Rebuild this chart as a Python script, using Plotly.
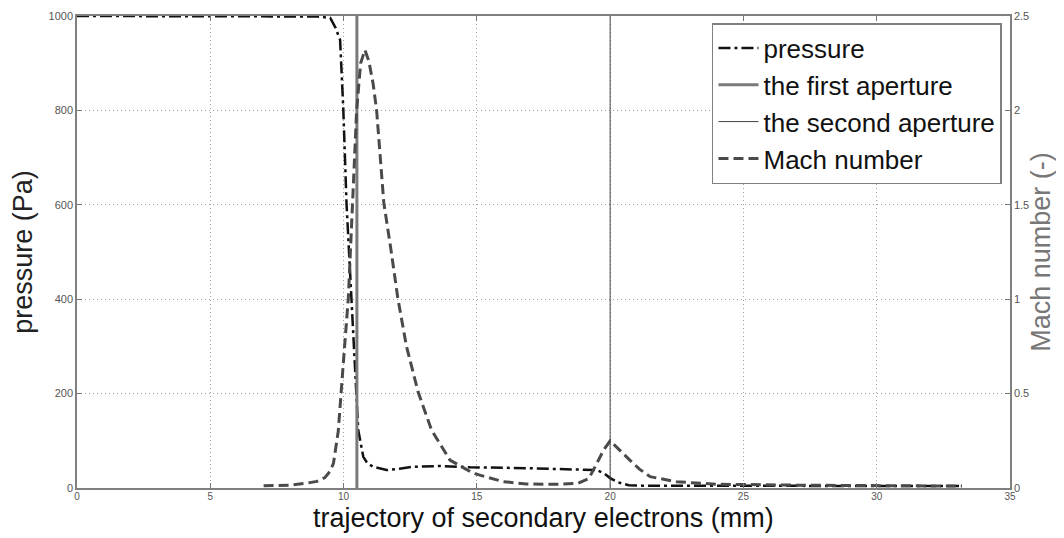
import plotly.graph_objects as go

# ---- data ----
pressure_x = [0, 5, 9.0, 9.5, 9.7, 9.87, 9.99, 10.11, 10.3, 10.47, 10.55, 10.74, 10.9, 11.11,
              11.61, 12.1, 12.61, 13.61, 14.74, 16.87, 19.0, 19.5, 19.8, 20.0, 20.3, 20.7,
              21.2, 22.0, 25.0, 30.0, 33.2]
pressure_y = [1000, 1000, 999, 996, 975, 949, 803, 604, 403, 203, 123, 66, 52, 45,
              38, 41, 45, 46.6, 44, 42, 40, 38, 30, 21, 12, 6,
              5, 5, 5, 5, 4]

mach_x = [7.0, 8.0, 8.6, 9.0, 9.3, 9.5, 9.62, 9.8, 9.99, 10.18, 10.35, 10.49, 10.64, 10.8,
          10.95, 11.11, 11.24, 11.39, 11.51, 11.78, 12.03, 12.36, 12.8, 13.3, 13.99, 14.86,
          15.98, 16.86, 18.0, 18.8, 19.2, 19.5, 19.75, 20.0, 20.35, 20.74, 21.1, 21.5,
          22.5, 24.0, 27.0, 30.0, 33.2]
mach_y = [0.012, 0.015, 0.025, 0.035, 0.055, 0.09, 0.13, 0.3, 0.66, 1.01, 1.55, 2.0, 2.25, 2.32,
          2.26, 2.14, 2.0, 1.72, 1.51, 1.26, 1.01, 0.75, 0.507, 0.307, 0.148, 0.078,
          0.034, 0.021, 0.02, 0.025, 0.05, 0.13, 0.2, 0.25, 0.2, 0.148, 0.1, 0.06,
          0.033, 0.02, 0.015, 0.012, 0.01]

first_aperture_x = 10.5
second_aperture_x = 20.0

x_ticks = [0, 5, 10, 15, 20, 25, 30, 35]
p_ticks = [0, 200, 400, 600, 800, 1000]
m_ticks = [0, 0.5, 1, 1.5, 2, 2.5]
m_tick_text = ["0", "0.5", "1", "1.5", "2", "2.5"]

x_title = "trajectory of secondary electrons (mm)"

FONT = "Liberation Sans, Arial, sans-serif"

fig = go.Figure()
fig.add_trace(go.Scatter(x=pressure_x, y=pressure_y, mode="lines", name="pressure",
                         line=dict(color="#111111", width=2.5, dash="12px,4px,3px,4px")))
fig.add_trace(go.Scatter(x=[first_aperture_x, first_aperture_x], y=[0, 1000], mode="lines",
                         name="the first aperture",
                         line=dict(color="#7a7a7a", width=3)))
fig.add_trace(go.Scatter(x=[second_aperture_x, second_aperture_x], y=[0, 1000], mode="lines",
                         name="the second aperture",
                         line=dict(color="#444444", width=1)))
fig.add_trace(go.Scatter(x=mach_x, y=mach_y, mode="lines", name="Mach number", yaxis="y2",
                         line=dict(color="#4a4a4a", width=3, dash="10px,5px")))

tickfont = dict(family=FONT, size=11, color="#555555")
gridstyle = dict(showgrid=True, gridcolor="#a0a0a0", griddash="1px,3px", gridwidth=1)

# the page body has an 8px margin, so the figure is offset by 8px inside the 1064x538 window
fig.update_layout(
    width=1048, height=530,
    margin=dict(l=69, r=46, t=8, b=50, autoexpand=False),
    paper_bgcolor="white", plot_bgcolor="white",
    font=dict(family=FONT),
    xaxis=dict(range=[0, 35], tickvals=x_ticks, ticks="inside", ticklen=5,
               tickcolor="#777777", showline=True, linecolor="#808080", linewidth=1.5,
               mirror="ticks", zeroline=False, tickfont=dict(family=FONT, size=10, color="#555555"),
               automargin=False, ticklabelstandoff=-2,
               **gridstyle),
    yaxis=dict(range=[0, 1000], tickvals=p_ticks, ticks="inside", ticklen=5,
               tickcolor="#777777", showline=True, linecolor="#808080", linewidth=1.5,
               zeroline=False, tickfont=tickfont, automargin=False,
               title=dict(text="pressure (Pa)", font=dict(family=FONT, size=27, color="#222222"),
                          standoff=10),
               **gridstyle),
    yaxis2=dict(range=[0, 2.5], tickvals=m_ticks, ticktext=m_tick_text, overlaying="y",
                side="right", ticks="inside", ticklen=5, tickcolor="#777777",
                showline=True, linecolor="#808080", linewidth=1.5, showgrid=False,
                zeroline=False, tickfont=tickfont, automargin=False,
                title=dict(text="Mach number (-)", font=dict(family=FONT, size=27, color="#777777"),
                           standoff=8)),
    legend=dict(x=0.9914, y=0.985, xanchor="right", yanchor="top",
                bgcolor="white", bordercolor="#808080", borderwidth=1.5,
                font=dict(family=FONT, size=26, color="#111111"),
                itemwidth=40),
    showlegend=True,
    annotations=[dict(text=x_title, xref="paper", yref="paper", x=0.5, y=0,
                      xanchor="center", yanchor="middle", yshift=-30, showarrow=False,
                      font=dict(family=FONT, size=27, color="#111111"))],
)

fig.write_html("out.html")
